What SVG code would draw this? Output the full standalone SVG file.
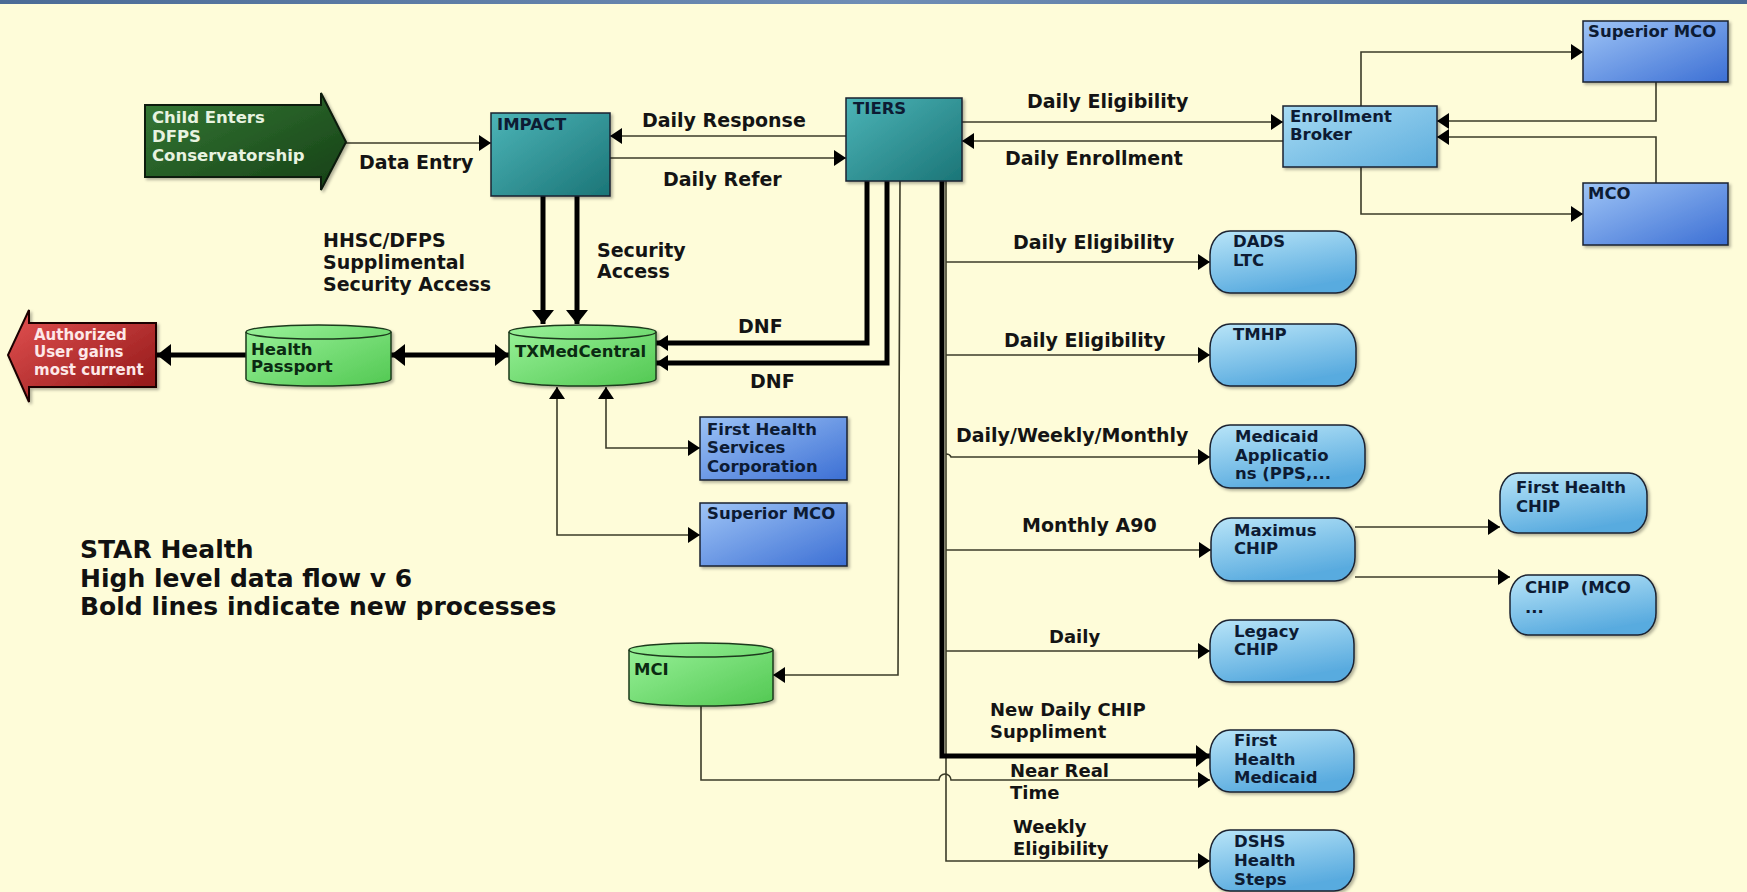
<svg xmlns="http://www.w3.org/2000/svg" width="1747" height="892" viewBox="0 0 1747 892">
<style>
.n{font-family:"DejaVu Sans","Liberation Sans",sans-serif;font-weight:bold;font-size:16.5px;fill:#0d1b33}
.g{fill:#0b2a12}
.w{fill:#e8f3e0}
.r{fill:#fde8e8;font-size:15px}
.l{font-family:"DejaVu Sans","Liberation Sans",sans-serif;font-weight:bold;font-size:19px;fill:#141414}
.s{font-size:18px}
.t{font-family:"DejaVu Sans","Liberation Sans",sans-serif;font-weight:bold;font-size:25px;fill:#111}
.th{stroke:#3b3b28;stroke-width:1.6;fill:none}
.tk{stroke:#000;stroke-width:5;fill:none}
.bd{stroke:#1a2230;stroke-width:1.5}
</style>
<defs>
<linearGradient id="bg" x1="0" y1="0" x2="1" y2="0"><stop offset="0" stop-color="#4b6b96"/><stop offset="0.5" stop-color="#6f8db5"/><stop offset="1" stop-color="#4a6a94"/></linearGradient>
<linearGradient id="teal" x1="0" y1="0" x2="1" y2="1"><stop offset="0" stop-color="#4cb4b7"/><stop offset="1" stop-color="#1b7577"/></linearGradient>
<linearGradient id="blue" x1="0" y1="0" x2="1" y2="1"><stop offset="0" stop-color="#9ec4f6"/><stop offset="1" stop-color="#3c6fd4"/></linearGradient>
<linearGradient id="lb" x1="0" y1="0" x2="0.4" y2="1"><stop offset="0" stop-color="#b9e5f8"/><stop offset="1" stop-color="#59abdf"/></linearGradient>
<linearGradient id="eb" x1="0" y1="0" x2="1" y2="1"><stop offset="0" stop-color="#a6daf3"/><stop offset="1" stop-color="#5eaedd"/></linearGradient>
<linearGradient id="grn" x1="0" y1="0" x2="1" y2="1"><stop offset="0" stop-color="#9af29a"/><stop offset="1" stop-color="#52c852"/></linearGradient>
<linearGradient id="dg" x1="0" y1="0" x2="1" y2="1"><stop offset="0" stop-color="#367a36"/><stop offset="1" stop-color="#153f15"/></linearGradient>
<linearGradient id="red" x1="0" y1="0" x2="1" y2="1"><stop offset="0" stop-color="#e45252"/><stop offset="1" stop-color="#8c1414"/></linearGradient>
<filter id="sh" x="-10%" y="-10%" width="130%" height="130%"><feDropShadow dx="2" dy="2" stdDeviation="1.5" flood-color="#000" flood-opacity="0.3"/></filter>
<marker id="a" markerWidth="12" markerHeight="16" refX="12" refY="8" orient="auto-start-reverse" markerUnits="userSpaceOnUse"><path d="M0,0 L12,8 L0,16 Z" fill="#000"/></marker>
<marker id="ab" markerWidth="14" markerHeight="22" refX="14" refY="11" orient="auto-start-reverse" markerUnits="userSpaceOnUse"><path d="M0,0 L14,11 L0,22 Z" fill="#000"/></marker>
</defs>
<rect x="0" y="0" width="1747" height="892" fill="#fefcd9"/>
<rect x="0" y="0" width="1747" height="4" fill="url(#bg)"/>

<g id="connectors">
<path class="th" d="M346,143 H491" marker-end="url(#a)"/>
<path class="th" d="M846,136 H610" marker-end="url(#a)"/>
<path class="th" d="M610,158 H846" marker-end="url(#a)"/>
<path class="tk" d="M543,196 V324" marker-end="url(#ab)"/>
<path class="tk" d="M577,196 V324" marker-end="url(#ab)"/>
<path class="tk" d="M867,181 V343 H656" marker-end="url(#a)"/>
<path class="tk" d="M887,181 V363 H656" marker-end="url(#a)"/>
<path class="th" d="M900,181 L898,675 H773" marker-end="url(#a)"/>
<path class="th" d="M946,181 V756"/>
<path class="th" d="M946,756 V780"/>
<path class="th" d="M946,780 V861 H1210" marker-end="url(#a)"/>
<path class="tk" d="M942,181 V756 H1210" marker-end="url(#ab)"/>
<path class="th" d="M946,262 H1210" marker-end="url(#a)"/>
<path class="th" d="M946,355 H1210" marker-end="url(#a)"/>
<path class="th" d="M946,454 Q950,454 951,457 H1210" marker-end="url(#a)"/>
<path class="th" d="M946,550 H1211" marker-end="url(#a)"/>
<path class="th" d="M946,651 H1210" marker-end="url(#a)"/>
<path class="th" d="M701,706 V780 H939 A6,6 0 0 1 951,780 H1210" marker-end="url(#a)"/>
<path class="th" d="M1355,527 H1500" marker-end="url(#a)"/>
<path class="th" d="M1355,577 H1510" marker-end="url(#a)"/>
<path class="th" d="M606,387 V448 H700" marker-start="url(#a)" marker-end="url(#a)"/>
<path class="th" d="M557,387 V535 H700" marker-start="url(#a)" marker-end="url(#a)"/>
<path class="tk" d="M391,355 H509" marker-start="url(#ab)" marker-end="url(#ab)"/>
<path class="tk" d="M246,355 H157" marker-end="url(#ab)"/>
<path class="th" d="M962,122 H1283" marker-end="url(#a)"/>
<path class="th" d="M1283,141 H962" marker-end="url(#a)"/>
<path class="th" d="M1361,106 V52 H1583" marker-end="url(#a)"/>
<path class="th" d="M1361,167 V214 H1583" marker-end="url(#a)"/>
<path class="th" d="M1656,82 V121 H1437" marker-end="url(#a)"/>
<path class="th" d="M1656,183 V137 H1437" marker-end="url(#a)"/>
</g>

<g id="labels">
<text class="l" x="359" y="169">Data Entry</text>
<text class="l" x="642" y="127">Daily Response</text>
<text class="l" x="663" y="186">Daily Refer</text>
<text class="l" x="323" y="247">HHSC/DFPS</text>
<text class="l" x="323" y="269">Supplimental</text>
<text class="l" x="323" y="291">Security Access</text>
<text class="l" x="597" y="257">Security</text>
<text class="l" x="597" y="278">Access</text>
<text class="l" x="738" y="333">DNF</text>
<text class="l" x="750" y="388">DNF</text>
<text class="l" x="1027" y="108">Daily Eligibility</text>
<text class="l" x="1005" y="165">Daily Enrollment</text>
<text class="l" x="1013" y="249">Daily Eligibility</text>
<text class="l" x="1004" y="347">Daily Eligibility</text>
<text class="l" x="956" y="442">Daily/Weekly/Monthly</text>
<text class="l" x="1022" y="532">Monthly A90</text>
<text class="l s" x="1049" y="643">Daily</text>
<text class="l s" x="990" y="716">New Daily CHIP</text>
<text class="l s" x="990" y="738">Suppliment</text>
<text class="l s" x="1010" y="777">Near Real</text>
<text class="l s" x="1010" y="799">Time</text>
<text class="l s" x="1013" y="833">Weekly</text>
<text class="l s" x="1013" y="855">Eligibility</text>
<text class="t" x="80" y="558">STAR Health</text>
<text class="t" x="80" y="587">High level data flow v 6</text>
<text class="t" x="80" y="615">Bold lines indicate new processes</text>
</g>

<g id="child">
<path d="M145,105 H321 V93 L346,142 L321,190 V177 H145 Z" fill="url(#dg)" stroke="#0a1a0a" stroke-width="2" filter="url(#sh)"/>
<text class="n w" x="152" y="123">Child Enters</text>
<text class="n w" x="152" y="142">DFPS</text>
<text class="n w" x="152" y="161">Conservatorship</text>
</g>
<g id="authorized">
<path d="M156,323 H29 V310 L8,355 L29,402 V387 H156 Z" fill="url(#red)" stroke="#1a0505" stroke-width="2" filter="url(#sh)"/>
<text class="n r" x="34" y="340">Authorized</text>
<text class="n r" x="34" y="357">User gains</text>
<text class="n r" x="34" y="375">most current</text>
</g>
<g id="impact">
<rect x="491" y="113" width="119" height="83" fill="url(#teal)" class="bd" filter="url(#sh)"/>
<text class="n" x="497" y="130">IMPACT</text>
</g>
<g id="tiers">
<rect x="846" y="98" width="116" height="83" fill="url(#teal)" class="bd" filter="url(#sh)"/>
<text class="n" x="853" y="114">TIERS</text>
</g>
<g id="enrollment-broker">
<rect x="1283" y="106" width="154" height="61" fill="url(#eb)" class="bd" filter="url(#sh)"/>
<text class="n" x="1290" y="122">Enrollment</text>
<text class="n" x="1290" y="140">Broker</text>
</g>
<g id="superior-mco-top">
<rect x="1583" y="21" width="145" height="61" fill="url(#blue)" class="bd" filter="url(#sh)"/>
<text class="n" x="1588" y="37">Superior MCO</text>
</g>
<g id="mco">
<rect x="1583" y="183" width="145" height="62" fill="url(#blue)" class="bd" filter="url(#sh)"/>
<text class="n" x="1588" y="199">MCO</text>
</g>
<g id="health-passport">
<path d="M246,332 A72.5,7 0 0 1 391,332 V379 A72.5,7 0 0 1 246,379 Z" fill="url(#grn)" stroke="#1d3a1d" stroke-width="1.5" filter="url(#sh)"/>
<path d="M246,332 A72.5,7 0 0 0 391,332" fill="none" stroke="#1d3a1d" stroke-width="1.5"/>
<text class="n g" x="251" y="355">Health</text>
<text class="n g" x="251" y="372">Passport</text>
</g>
<g id="txmedcentral">
<path d="M509,332 A73.5,7 0 0 1 656,332 V379 A73.5,7 0 0 1 509,379 Z" fill="url(#grn)" stroke="#1d3a1d" stroke-width="1.5" filter="url(#sh)"/>
<path d="M509,332 A73.5,7 0 0 0 656,332" fill="none" stroke="#1d3a1d" stroke-width="1.5"/>
<text class="n g" x="515" y="357">TXMedCentral</text>
</g>
<g id="mci">
<path d="M629,650 A72,7 0 0 1 773,650 V699 A72,7 0 0 1 629,699 Z" fill="url(#grn)" stroke="#1d3a1d" stroke-width="1.5" filter="url(#sh)"/>
<path d="M629,650 A72,7 0 0 0 773,650" fill="none" stroke="#1d3a1d" stroke-width="1.5"/>
<text class="n g" x="634" y="675">MCI</text>
</g>
<g id="first-health-services">
<rect x="700" y="417" width="147" height="63" fill="url(#blue)" class="bd" filter="url(#sh)"/>
<text class="n" x="707" y="435">First Health</text>
<text class="n" x="707" y="453">Services</text>
<text class="n" x="707" y="472">Corporation</text>
</g>
<g id="superior-mco-low">
<rect x="700" y="503" width="147" height="63" fill="url(#blue)" class="bd" filter="url(#sh)"/>
<text class="n" x="707" y="519">Superior MCO</text>
</g>
<g id="dads-ltc">
<rect x="1210" y="231" width="146" height="62" rx="20" ry="24" fill="url(#lb)" class="bd" filter="url(#sh)"/>
<text class="n" x="1233" y="247">DADS</text>
<text class="n" x="1233" y="266">LTC</text>
</g>
<g id="tmhp">
<rect x="1210" y="324" width="146" height="62" rx="20" ry="24" fill="url(#lb)" class="bd" filter="url(#sh)"/>
<text class="n" x="1233" y="340">TMHP</text>
</g>
<g id="medicaid-applications">
<rect x="1210" y="425" width="155" height="63" rx="20" ry="24" fill="url(#lb)" class="bd" filter="url(#sh)"/>
<text class="n" x="1235" y="442">Medicaid</text>
<text class="n" x="1235" y="461">Applicatio</text>
<text class="n" x="1235" y="479">ns (PPS,...</text>
</g>
<g id="maximus-chip">
<rect x="1211" y="518" width="144" height="63" rx="20" ry="24" fill="url(#lb)" class="bd" filter="url(#sh)"/>
<text class="n" x="1234" y="536">Maximus</text>
<text class="n" x="1234" y="554">CHIP</text>
</g>
<g id="legacy-chip">
<rect x="1210" y="620" width="144" height="62" rx="20" ry="24" fill="url(#lb)" class="bd" filter="url(#sh)"/>
<text class="n" x="1234" y="637">Legacy</text>
<text class="n" x="1234" y="655">CHIP</text>
</g>
<g id="first-health-medicaid">
<rect x="1210" y="730" width="144" height="62" rx="20" ry="24" fill="url(#lb)" class="bd" filter="url(#sh)"/>
<text class="n" x="1234" y="746">First</text>
<text class="n" x="1234" y="765">Health</text>
<text class="n" x="1234" y="783">Medicaid</text>
</g>
<g id="dshs-health-steps">
<rect x="1210" y="830" width="144" height="61" rx="20" ry="24" fill="url(#lb)" class="bd" filter="url(#sh)"/>
<text class="n" x="1234" y="847">DSHS</text>
<text class="n" x="1234" y="866">Health</text>
<text class="n" x="1234" y="885">Steps</text>
</g>
<g id="first-health-chip">
<rect x="1500" y="473" width="147" height="60" rx="18" ry="22" fill="url(#lb)" class="bd" filter="url(#sh)"/>
<text class="n" x="1516" y="493">First Health</text>
<text class="n" x="1516" y="512">CHIP</text>
</g>
<g id="chip-mco">
<rect x="1510" y="575" width="146" height="60" rx="18" ry="22" fill="url(#lb)" class="bd" filter="url(#sh)"/>
<text class="n" x="1525" y="593" xml:space="preserve">CHIP  (MCO</text>
<text class="n" x="1525" y="613">...</text>
</g>
</svg>
